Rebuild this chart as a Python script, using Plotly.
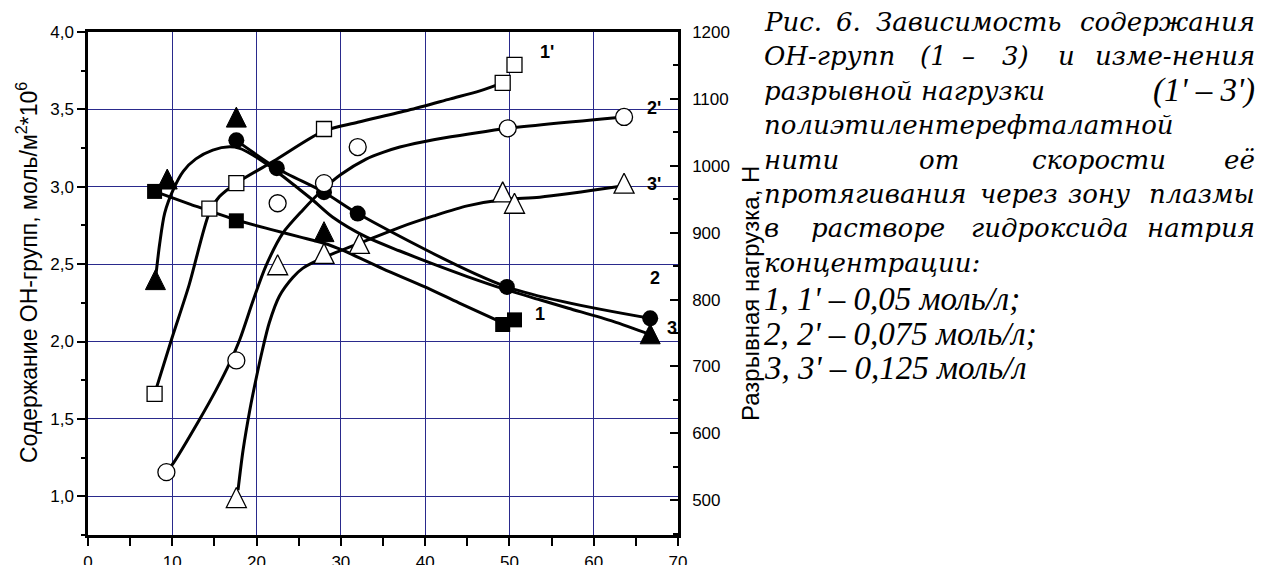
import plotly.graph_objects as go

# ---- OH-group content, mol/m2*10^6 (left axis), filled markers ----
oh1_speed = [7.9, 17.6, 49.2, 50.6]
oh1_content = [2.97, 2.78, 2.11, 2.14]
oh2_speed = [17.6, 22.4, 28.0, 32.0, 49.7, 66.7]
oh2_content = [3.30, 3.12, 2.965, 2.827, 2.353, 2.15]
oh3_speed = [8.0, 9.4, 17.6, 28.0, 66.7]
oh3_content = [2.40, 3.05, 3.45, 2.71, 2.05]

# ---- breaking load, N (right axis), open markers ----
load1_speed = [7.9, 14.4, 17.6, 28.0, 49.2, 50.6]
load1_value = [659, 936, 974, 1055, 1124, 1151]
load2_speed = [9.3, 17.6, 22.5, 28.0, 32.0, 49.8, 63.6]
load2_value = [542, 709, 944, 974, 1028, 1056, 1073]
load3_speed = [17.6, 22.5, 28.0, 32.2, 49.2, 50.6, 63.6]
load3_value = [504, 852, 869, 884, 961, 944, 974]

# ---- smoothed trend curves ----
trend1_speed = [7.9, 12.0, 17.6, 22.0, 25.1, 28.0, 30.2, 35.0, 39.9, 44.0, 49.2]
trend1_content = [2.97, 2.89, 2.785, 2.72, 2.676, 2.635, 2.59, 2.47, 2.355, 2.25, 2.12]
trend2_speed = oh2_speed
trend2_content = oh2_content
trend3_speed = [8.0, 8.5, 9.1, 10.1, 11.3, 12.8, 14.8, 16.8, 18.0, 19.6, 21.1, 22.7,
                24.7, 26.7, 29.0, 33.0, 37.0, 41.0, 45.0, 49.6, 53.6, 57.0, 62.3, 66.7]
trend3_content = [2.40, 2.63, 2.83, 2.98, 3.10, 3.18, 3.237, 3.258, 3.248, 3.204, 3.15, 3.086,
                  3.0, 2.913, 2.805, 2.676, 2.585, 2.50, 2.42, 2.335, 2.27, 2.215, 2.13, 2.045]

trend1p_speed = [7.9, 9.9, 12.0, 14.4, 15.6, 17.6, 22.3, 28.0, 32.0, 38.0, 43.0, 46.5, 49.2]
trend1p_value = [659, 740, 822, 930, 954, 974, 1009, 1052, 1065, 1083, 1100, 1112, 1124]
trend2p_speed = [9.3, 10.1, 13.2, 15.2, 16.8, 18.0, 19.6, 21.1, 23.1, 25.5, 28.0, 30.0,
                 33.0, 35.0, 37.0, 41.0, 45.0, 49.8, 63.6]
trend2p_value = [542, 555, 620, 665, 705, 740, 799, 850, 899, 934, 966, 987,
                 1010, 1020, 1028, 1039, 1047, 1056, 1073]
trend3p_speed = [17.8, 18.4, 19.2, 20.0, 20.7, 21.5, 22.7, 24.3, 25.5, 28.0, 33.0, 37.0,
                 41.0, 45.0, 49.6, 53.6, 63.6]
trend3p_value = [515, 575, 635, 685, 725, 765, 805, 833, 847, 863, 888, 908,
                 925, 940, 950, 953, 970]

# ---- curve labels ----
curve_labels = ["1'", "2'", "3'", "1", "2", "3"]

# ---- caption ----
caption_lines = [
    "Рис. 6. Зависимость содержания",
    "ОН-групп (1 – 3) и изме-нения",
    "разрывной нагрузки (1' – 3')",
    "полиэтилентерефталатной",
    "нити от скорости её",
    "протягивания через зону плазмы",
    "в растворе гидроксида натрия",
    "концентрации:",
    "1, 1' – 0,05 моль/л;",
    "2, 2' – 0,075 моль/л;",
    "3, 3' – 0,125 моль/л",
]

W, H = 1261, 565
L, R, T, B = 88, 678, 32, 535
GRID = "#2a2a8c"
SANS = "Liberation Sans"


def px_x(px):
    return (px - L) / (R - L)


def px_y(py):
    return (B - py) / (B - T)


fig = go.Figure()

curve_line = dict(color="black", width=3, shape="spline", smoothing=0.8)

# upward triangle centred on its point: a down-arrow turned half a turn,
# pushed back by half its size
tri = dict(symbol="arrow-down", angle=180, size=20, standoff=10)

# trend curves (drawn first so markers sit on top)
fig.add_trace(go.Scatter(x=trend1_speed, y=trend1_content, mode="lines", line=curve_line))
fig.add_trace(go.Scatter(x=trend2_speed, y=trend2_content, mode="lines", line=curve_line))
fig.add_trace(go.Scatter(x=trend3_speed, y=trend3_content, mode="lines", line=curve_line))

# filled markers, OH content
fig.add_trace(go.Scatter(x=oh1_speed, y=oh1_content, mode="markers",
                         marker=dict(symbol="square", size=15, color="black")))
fig.add_trace(go.Scatter(x=oh2_speed, y=oh2_content, mode="markers",
                         marker=dict(symbol="circle", size=16, color="black")))
fig.add_trace(go.Scatter(x=oh3_speed, y=oh3_content, mode="markers",
                         marker=dict(tri, color="black", line=dict(color="black", width=1))))

# breaking load curves and open markers
fig.add_trace(go.Scatter(x=trend1p_speed, y=trend1p_value, mode="lines", line=curve_line, yaxis="y2"))
fig.add_trace(go.Scatter(x=trend2p_speed, y=trend2p_value, mode="lines", line=curve_line, yaxis="y2"))
fig.add_trace(go.Scatter(x=trend3p_speed, y=trend3p_value, mode="lines", line=curve_line, yaxis="y2"))

open_line = dict(color="black", width=1.3)
fig.add_trace(go.Scatter(x=load1_speed, y=load1_value, mode="markers", yaxis="y2",
                         marker=dict(symbol="square", size=15, color="white", line=open_line)))
fig.add_trace(go.Scatter(x=load2_speed, y=load2_value, mode="markers", yaxis="y2",
                         marker=dict(symbol="circle", size=17, color="white", line=open_line)))
fig.add_trace(go.Scatter(x=load3_speed, y=load3_value, mode="markers", yaxis="y2",
                         marker=dict(tri, color="white", line=open_line)))

annotations = []

# curve number labels
label_pos = [
    (54.4, 1170, "y2"), (67.2, 1086, "y2"), (67.2, 973, "y2"),
    (53.6, 2.18, "y"), (67.3, 2.41, "y"), (69.3, 2.085, "y"),
]
for text, (lx, ly, yr) in zip(curve_labels, label_pos):
    annotations.append(dict(x=lx, y=ly, xref="x", yref=yr, text="<b>%s</b>" % text,
                            showarrow=False, font=dict(family=SANS, size=18, color="black")))

# axis titles
annotations.append(dict(x=px_x(27), y=px_y(273), xref="paper", yref="paper",
                        text="Содержание ОН-групп, моль/м<sup>2</sup>*10<sup>6</sup>",
                        textangle=-90, showarrow=False, xanchor="center", yanchor="middle",
                        font=dict(family=SANS, size=23, color="black")))
annotations.append(dict(x=px_x(750), y=px_y(294), xref="paper", yref="paper",
                        text="Разрывная нагрузка, Н",
                        textangle=-90, showarrow=False, xanchor="center", yanchor="middle",
                        font=dict(family=SANS, size=24, color="black")))

# caption block, justified by placing words individually
serif_a = dict(family="DejaVu Serif", size=26, color="black", style="italic")
serif_b = dict(family="Liberation Serif", size=33, color="black", style="italic")
left_edge, right_edge = 762, 1257
line_step = 34.4
first_center = 22


def cap(text, px, py, anchor, font):
    annotations.append(dict(x=px_x(px), y=px_y(py), xref="paper", yref="paper", text=text,
                            showarrow=False, xanchor=anchor, yanchor="middle", font=font))


def justified(line, py, lefts, font):
    words = line.split(" ")
    for word, px in zip(words[:-1], lefts):
        cap(word, px, py, "left", font)
    cap(words[-1], right_edge, py, "right", font)


centers = [first_center + i * line_step for i in range(len(caption_lines))]
centers[8:] = [c + 2 for c in centers[8:]]

justified(caption_lines[0], centers[0], [762, 834, 874], serif_a)
justified(caption_lines[1], centers[1], [762, 918, 960, 1000, 1056], serif_a)
cap("разрывной нагрузки", left_edge, centers[2], "left", serif_a)
cap("(1' – 3')", right_edge, centers[2], "right", serif_b)
cap(caption_lines[3], left_edge, centers[3], "left", serif_a)
justified(caption_lines[4], centers[4], [762, 917, 1030], serif_a)
justified(caption_lines[5], centers[5], [762, 978, 1066], serif_a)
justified(caption_lines[6], centers[6], [762, 809, 969], serif_a)
cap(caption_lines[7], left_edge, centers[7], "left", serif_a)
for i in (8, 9, 10):
    cap(caption_lines[i], left_edge, centers[i], "left", serif_b)

tick_font = dict(family=SANS, size=17, color="black")

fig.update_layout(
    width=W, height=H,
    margin=dict(l=L, r=W - R, t=T, b=H - B, pad=0, autoexpand=False),
    paper_bgcolor="white", plot_bgcolor="white",
    showlegend=False,
    separators=",.",
    annotations=annotations,
    xaxis=dict(range=[0, 70], dtick=10, tick0=0, ticks="outside", ticklen=8, tickwidth=2,
               tickcolor="black", showline=True, linewidth=2.5, linecolor="black", mirror=True,
               showgrid=True, gridcolor=GRID, gridwidth=1, zeroline=False, tickfont=tick_font,
               ticklabelstandoff=2, automargin=False,
               minor=dict(dtick=5, tick0=0, ticks="outside", ticklen=8, tickwidth=2,
                          tickcolor="black", showgrid=False)),
    yaxis=dict(range=[0.75, 4.0], dtick=0.5, tick0=0, tickformat=".1f", ticks="outside",
               ticklen=8, tickwidth=2, tickcolor="black", showline=True, linewidth=2.5,
               linecolor="black", showgrid=True, gridcolor=GRID, gridwidth=1, zeroline=False,
               tickfont=tick_font, automargin=False,
               minor=dict(dtick=0.25, tick0=0, ticks="outside", ticklen=4, tickwidth=2,
                          tickcolor="black", showgrid=False)),
    yaxis2=dict(range=[448, 1200], dtick=100, tick0=0, overlaying="y", side="right",
                ticks="inside", ticklen=8, tickwidth=2, tickcolor="black", showline=True,
                linewidth=2.5, linecolor="black", showgrid=False, zeroline=False,
                tickfont=tick_font, ticklabelstandoff=8, automargin=False,
                minor=dict(dtick=50, tick0=0, ticks="inside", ticklen=5, tickwidth=2,
                           tickcolor="black", showgrid=False)),
)

fig.write_html("out.html")
